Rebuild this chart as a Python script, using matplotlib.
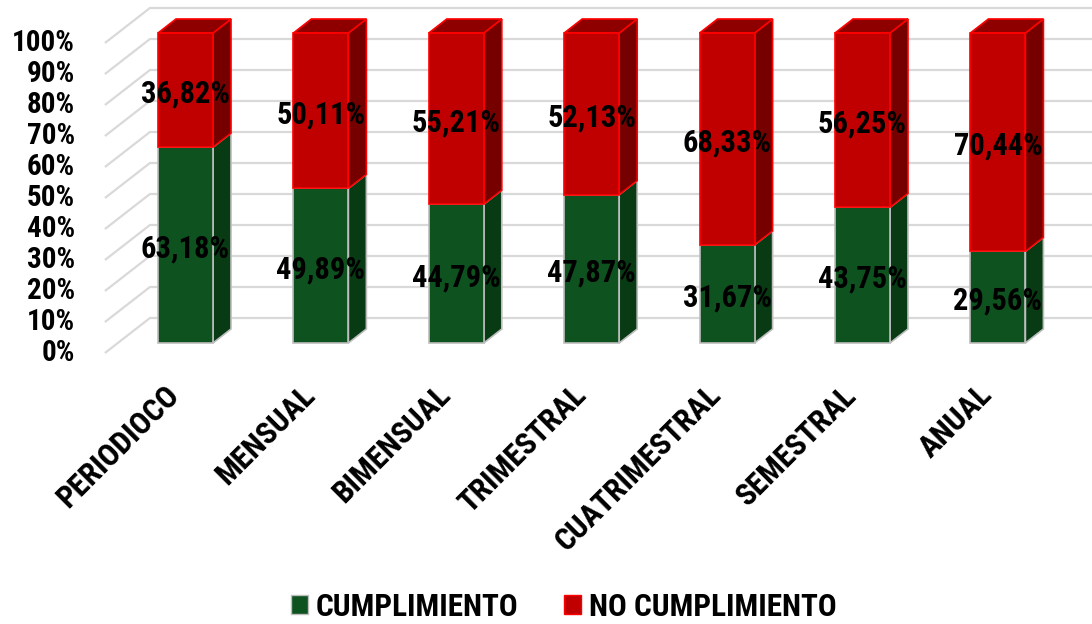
import matplotlib
matplotlib.use("Agg")
import matplotlib.pyplot as plt
from matplotlib.patches import Rectangle, Polygon, Patch
from matplotlib import font_manager

categories = ["PERIODIOCO", "MENSUAL", "BIMENSUAL", "TRIMESTRAL",
              "CUATRIMESTRAL", "SEMESTRAL", "ANUAL"]
cumplimiento = [63.18, 49.89, 44.79, 47.87, 31.67, 43.75, 29.56]
no_cumplimiento = [36.82, 50.11, 55.21, 52.13, 68.33, 56.25, 70.44]
series_names = ["CUMPLIMIENTO", "NO CUMPLIMIENTO"]
y_ticks = list(range(0, 101, 10))
y_tick_labels = [f"{t}%" for t in y_ticks]

# fonts: prefer a condensed sans if one is installed
entries = font_manager.fontManager.ttflist
names = {f.name for f in entries}
narrow = [n for n in ["Liberation Sans Narrow", "Arial Narrow", "Roboto Condensed",
                      "Open Sans Condensed", "Nimbus Sans Narrow", "DejaVu Sans Condensed"]
          if n in names]
stretch = "normal"
if narrow:
    fam = [narrow[0], "DejaVu Sans"]
else:
    cond = [f.name for f in entries
            if str(f.stretch) in ("condensed", "semi-condensed", "extra-condensed")
            or (isinstance(f.stretch, int) and f.stretch < 500)]
    if cond:
        fam = [cond[0], "DejaVu Sans"]
        stretch = "condensed"
    else:
        fam = ["Liberation Sans", "DejaVu Sans"]
plt.rcParams["font.family"] = fam
plt.rcParams["font.stretch"] = stretch

GREEN = "#0e521f"
GREEN_SIDE = "#083a14"
GREEN_EDGE = "#bdbdbd"
RED = "#c00000"
RED_SIDE = "#760000"
RED_TOP = "#8e0000"
RED_EDGE = "#ff0000"
GRID = "#d9d9d9"

W, H = 1092, 624
fig = plt.figure(figsize=(W / 100, H / 100), dpi=100)
ax = fig.add_axes([0, 0, 1, 1])

px_x = 135.4   # pixels per category
px_y = 3.1     # pixels per percent
x0_px = 185.5  # first bar centre (pixels from left)
y0_px = 343    # 0% on bar front plane (pixels from top)
xmin = -x0_px / px_x
xmax = xmin + W / px_x
ymin = -(H - y0_px) / px_y
ymax = ymin + H / px_y
ax.set_xlim(xmin, xmax)
ax.set_ylim(ymin, ymax)
ax.axis("off")

bw = 55 / px_x         # bar width
DX, DY = 18 / px_x, 14 / px_y   # bar depth offset
k_back, k_front = 25 / 14, -10 / 14
wall_x = -0.5

# gridlines (side wall + back wall)
for v in y_ticks:
    xs = [wall_x + k_front * DX, wall_x + k_back * DX, xmax]
    ys = [v + k_front * DY, v + k_back * DY, v + k_back * DY]
    ax.plot(xs, ys, color=GRID, lw=1.6, zorder=0, solid_capstyle="butt")

FS = 21
for v, lab in zip(y_ticks, y_tick_labels):
    ax.text(wall_x + k_front * DX - 0.22, v + k_front * DY, lab,
            ha="right", va="center", fontsize=FS, fontweight="bold", color="black")

def draw_segment(x, b, t, face, side, edge, top=None):
    l, r = x - bw / 2, x + bw / 2
    ax.add_patch(Rectangle((l, b), bw, t - b, facecolor=face, edgecolor=edge,
                           lw=1.2, zorder=3))
    ax.add_patch(Polygon([(r, b), (r + DX, b + DY), (r + DX, t + DY), (r, t)],
                         closed=True, facecolor=side, edgecolor=edge, lw=1.2, zorder=2))
    if top is not None:
        ax.add_patch(Polygon([(l, t), (l + DX, t + DY), (r + DX, t + DY), (r, t)],
                             closed=True, facecolor=top, edgecolor=edge, lw=1.2, zorder=2))

for i, (g, n) in enumerate(zip(cumplimiento, no_cumplimiento)):
    draw_segment(i, 0, g, GREEN, GREEN_SIDE, GREEN_EDGE)
    draw_segment(i, g, g + n, RED, RED_SIDE, RED_EDGE, top=RED_TOP)
    ax.text(i, g / 2 - 1.2, f"{g:.2f}%".replace(".", ","), ha="center", va="center",
            fontsize=FS + 1, fontweight="bold", color="black", zorder=5)
    ax.text(i, g + n / 2 - 1.2, f"{n:.2f}%".replace(".", ","), ha="center", va="center",
            fontsize=FS + 1, fontweight="bold", color="black", zorder=5)

for i, c in enumerate(categories):
    ax.text(i - 0.08, -15.2, c, rotation=45, rotation_mode="anchor",
            ha="right", va="center", fontsize=22.5, fontweight="bold", color="black")

handles = [Patch(facecolor=GREEN, edgecolor=GREEN_EDGE, lw=1),
           Patch(facecolor=RED, edgecolor=RED_EDGE, lw=1)]
leg = fig.legend(handles, series_names, loc="center", bbox_to_anchor=(0.516, 0.028),
                 ncol=2, frameon=False, handlelength=0.55, handleheight=0.55,
                 handletextpad=0.25, columnspacing=1.45,
                 prop={"weight": "bold", "size": 22.5})

fig.savefig("out.png", dpi=100)
